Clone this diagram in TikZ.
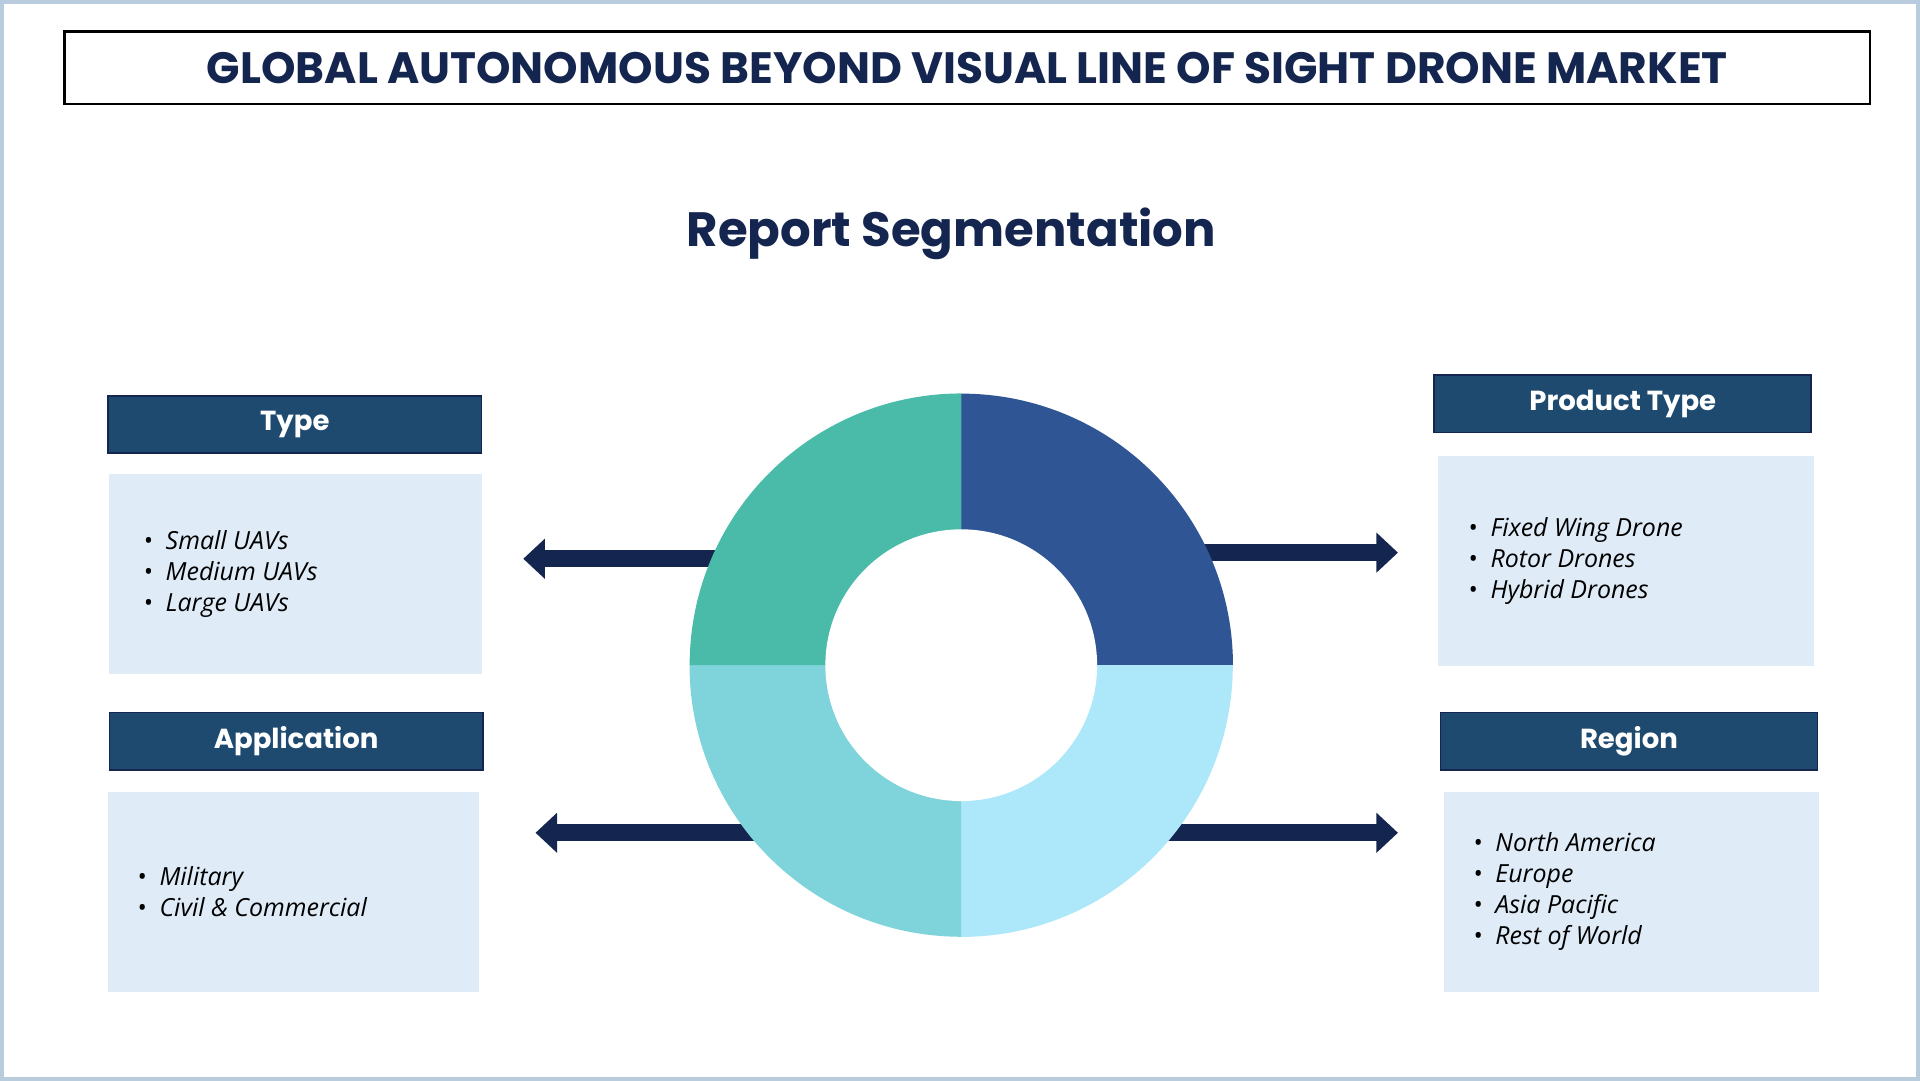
\documentclass[tikz,border=0pt]{standalone}
\usepackage{fontspec}
\setmainfont{Open Sans}
\newfontfamily\headfont{Poppins}
\usetikzlibrary{positioning,arrows.meta,calc}
\definecolor{navy}{HTML}{14264F}
\definecolor{headblue}{HTML}{1F4A70}
\definecolor{boxblue}{HTML}{DFEBF7}
\definecolor{segA}{HTML}{2F5595}
\definecolor{segB}{HTML}{ADE8FA}
\definecolor{segC}{HTML}{7ED4DA}
\definecolor{segD}{HTML}{4ABBA8}
\definecolor{frame}{HTML}{B8CCDD}
\begin{document}
\begin{tikzpicture}[
    x=0.01cm, y=-0.01cm,
    header/.style={rectangle, draw=navy, fill=headblue, minimum width=3.05cm, minimum height=0.47cm, text=white, font=\headfont\bfseries\fontsize{6.4}{7}\selectfont, anchor=north west, inner sep=0pt},
    listbox/.style={rectangle, fill=boxblue, minimum width=3.04cm, anchor=north west, inner sep=0pt},
    items/.style={font=\itshape\fontsize{5.8}{7.2}\selectfont, text=black, align=left, anchor=west},
    arrow/.style={-{Triangle[length=5pt, width=9pt]}, line width=4pt, navy}
]

% Frame
\draw[frame, line width=1pt, fill=white] (1,1) rectangle (1567,881);
\useasboundingbox (0,0) rectangle (1568,882);

% Title
\node[draw=black, line width=0.6pt, minimum width=14.75cm, minimum height=0.59cm, anchor=north west, inner sep=0pt, text=navy, font=\headfont\bfseries\fontsize{10.2}{12}\selectfont] (title) at (51,24) {GLOBAL AUTONOMOUS BEYOND VISUAL LINE OF SIGHT DRONE MARKET};
\node[text=navy, font=\headfont\bfseries\fontsize{11.2}{13}\selectfont] (subtitle) at (777,190) {Report Segmentation};

% Center of the donut
\coordinate (hub) at (785,543);

% Arrow ends
\coordinate (typeend) at (427,456);
\coordinate (prodend) at (1142,451);
\coordinate (append) at (437,680);
\coordinate (regend) at (1142,680);

% Arrows (behind the donut)
\draw[arrow] (hub |- typeend) -- (typeend);
\draw[arrow] (hub |- prodend) -- (prodend);
\draw[arrow] (hub |- append) -- (append);
\draw[arrow] (hub |- regend) -- (regend);

% Donut
\fill[segA] (hub) -- ++(0,-222) arc[start angle=90, end angle=0, radius=2.22cm] -- cycle;
\fill[segB] (hub) -- ++(222,0) arc[start angle=0, end angle=-90, radius=2.22cm] -- cycle;
\fill[segC] (hub) -- ++(0,222) arc[start angle=-90, end angle=-180, radius=2.22cm] -- cycle;
\fill[segD] (hub) -- ++(-222,0) arc[start angle=180, end angle=90, radius=2.22cm] -- cycle;
\fill[white] (hub) circle[radius=1.11cm];

% Type
\node[header] (type) at (87,322) {Type};
\node[listbox, minimum height=1.63cm] (typebox) at (88,386) {};
\node[items] (typelist) at ([xshift=0.16cm]typebox.west) {\textbullet\ \ Small UAVs\\\textbullet\ \ Medium UAVs\\\textbullet\ \ Large UAVs};

% Product Type
\node[header, minimum width=3.08cm] (prod) at (1171,305) {Product Type};
\node[listbox, minimum width=3.07cm, minimum height=1.72cm] (prodbox) at (1174,371) {};
\node[items] (prodlist) at ([xshift=0.13cm]prodbox.west) {\textbullet\ \ Fixed Wing Drone\\\textbullet\ \ Rotor Drones\\\textbullet\ \ Hybrid Drones};

% Application
\node[header] (app) at (88,581) {Application};
\node[listbox, minimum width=3.03cm, minimum height=1.63cm] (appbox) at (87,646) {};
\node[items] (applist) at ([xshift=0.12cm]appbox.west) {\textbullet\ \ Military\\\textbullet\ \ Civil \& Commercial};

% Region
\node[header, minimum width=3.08cm] (reg) at (1176,581) {Region};
\node[listbox, minimum width=3.06cm, minimum height=1.63cm] (regbox) at (1179,646) {};
\node[items] (reglist) at ([xshift=0.12cm]regbox.west) {\textbullet\ \ North America\\\textbullet\ \ Europe\\\textbullet\ \ Asia Pacific\\\textbullet\ \ Rest of World};

\end{tikzpicture}
\end{document}
